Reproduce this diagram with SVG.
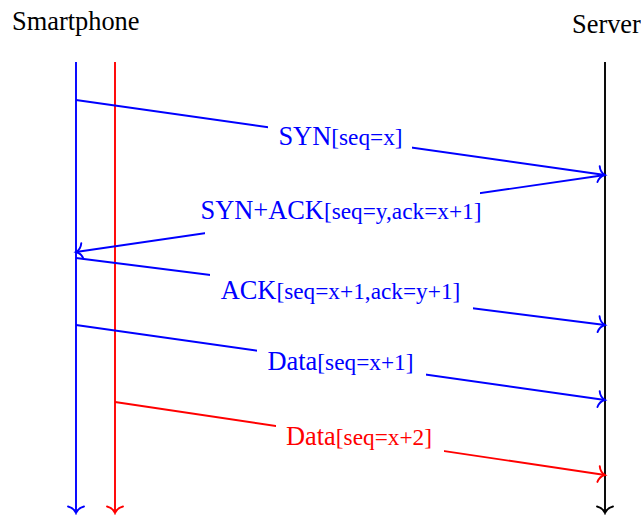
<svg xmlns="http://www.w3.org/2000/svg" width="641" height="515" viewBox="0 0 641 515">
<style>
text{font-family:"Liberation Serif","Times New Roman",serif;font-size:26.4px}
.s{font-size:23.3px}
.b{fill:#0000ff}.r{fill:#ff0000}.k{fill:#000}
line{stroke-width:1.9;fill:none}
.lb{stroke:#0000ff}.lr{stroke:#ff0000}.lk{stroke:#000}
.bg{fill:#fff}
</style>
<defs>
<marker id="ab" markerUnits="userSpaceOnUse" markerWidth="20" markerHeight="20" viewBox="-10 -10 20 20" refX="0" refY="0" orient="auto" overflow="visible">
<path d="M-6.5,-8 C-5.5,-3.5 -2,-0.8 0,0 C-2,0.8 -5.5,3.5 -6.5,8" fill="none" stroke="#0000ff" stroke-width="1.9" stroke-linecap="round"/>
</marker>
<marker id="ar" markerUnits="userSpaceOnUse" markerWidth="20" markerHeight="20" viewBox="-10 -10 20 20" refX="0" refY="0" orient="auto" overflow="visible">
<path d="M-6.5,-8 C-5.5,-3.5 -2,-0.8 0,0 C-2,0.8 -5.5,3.5 -6.5,8" fill="none" stroke="#ff0000" stroke-width="1.9" stroke-linecap="round"/>
</marker>
<marker id="ak" markerUnits="userSpaceOnUse" markerWidth="20" markerHeight="20" viewBox="-10 -10 20 20" refX="0" refY="0" orient="auto" overflow="visible">
<path d="M-6.5,-8 C-5.5,-3.5 -2,-0.8 0,0 C-2,0.8 -5.5,3.5 -6.5,8" fill="none" stroke="#000" stroke-width="1.9" stroke-linecap="round"/>
</marker>
</defs>
<g id="smartphone">
<text class="k" x="12" y="30">Smartphone</text>
<line class="lb" x1="76" y1="62" x2="76" y2="513" marker-end="url(#ab)"/>
<line class="lr" x1="115" y1="62" x2="115" y2="513" marker-end="url(#ar)"/>
</g>
<g id="server">
<text class="k" x="572" y="33">Server</text>
<line class="lk" x1="605" y1="62" x2="605" y2="513" marker-end="url(#ak)"/>
</g>
<g id="connectors">
<g id="syn">
<line class="lb" x1="76" y1="100" x2="605" y2="175" marker-end="url(#ab)"/>
<rect class="bg" x="268" y="120" width="144" height="32"/>
<text class="b" x="340.5" y="144.5" text-anchor="middle">SYN<tspan class="s">[seq=x]</tspan></text>
</g>
<g id="synack">
<line class="lb" x1="605" y1="175" x2="76" y2="252" marker-end="url(#ab)"/>
<rect class="bg" x="205" y="191" width="275" height="44"/>
<text class="b" x="341" y="218.5" text-anchor="middle">SYN+ACK<tspan class="s">[seq=y,ack=x+1]</tspan></text>
</g>
<g id="ack">
<line class="lb" x1="76" y1="258" x2="605" y2="325" marker-end="url(#ab)"/>
<rect class="bg" x="210" y="272" width="263" height="39"/>
<text class="b" x="340.5" y="299" text-anchor="middle">ACK<tspan class="s">[seq=x+1,ack=y+1]</tspan></text>
</g>
<g id="data1">
<line class="lb" x1="76" y1="325" x2="605" y2="400" marker-end="url(#ab)"/>
<rect class="bg" x="257" y="347" width="169" height="31"/>
<text class="b" x="340.5" y="370" text-anchor="middle">Data<tspan class="s">[seq=x+1]</tspan></text>
</g>
<g id="data2">
<line class="lr" x1="115" y1="402" x2="605" y2="475" marker-end="url(#ar)"/>
<rect class="bg" x="276" y="422" width="168" height="33"/>
<text class="r" x="359" y="445" text-anchor="middle">Data<tspan class="s">[seq=x+2]</tspan></text>
</g>
</g>
</svg>
